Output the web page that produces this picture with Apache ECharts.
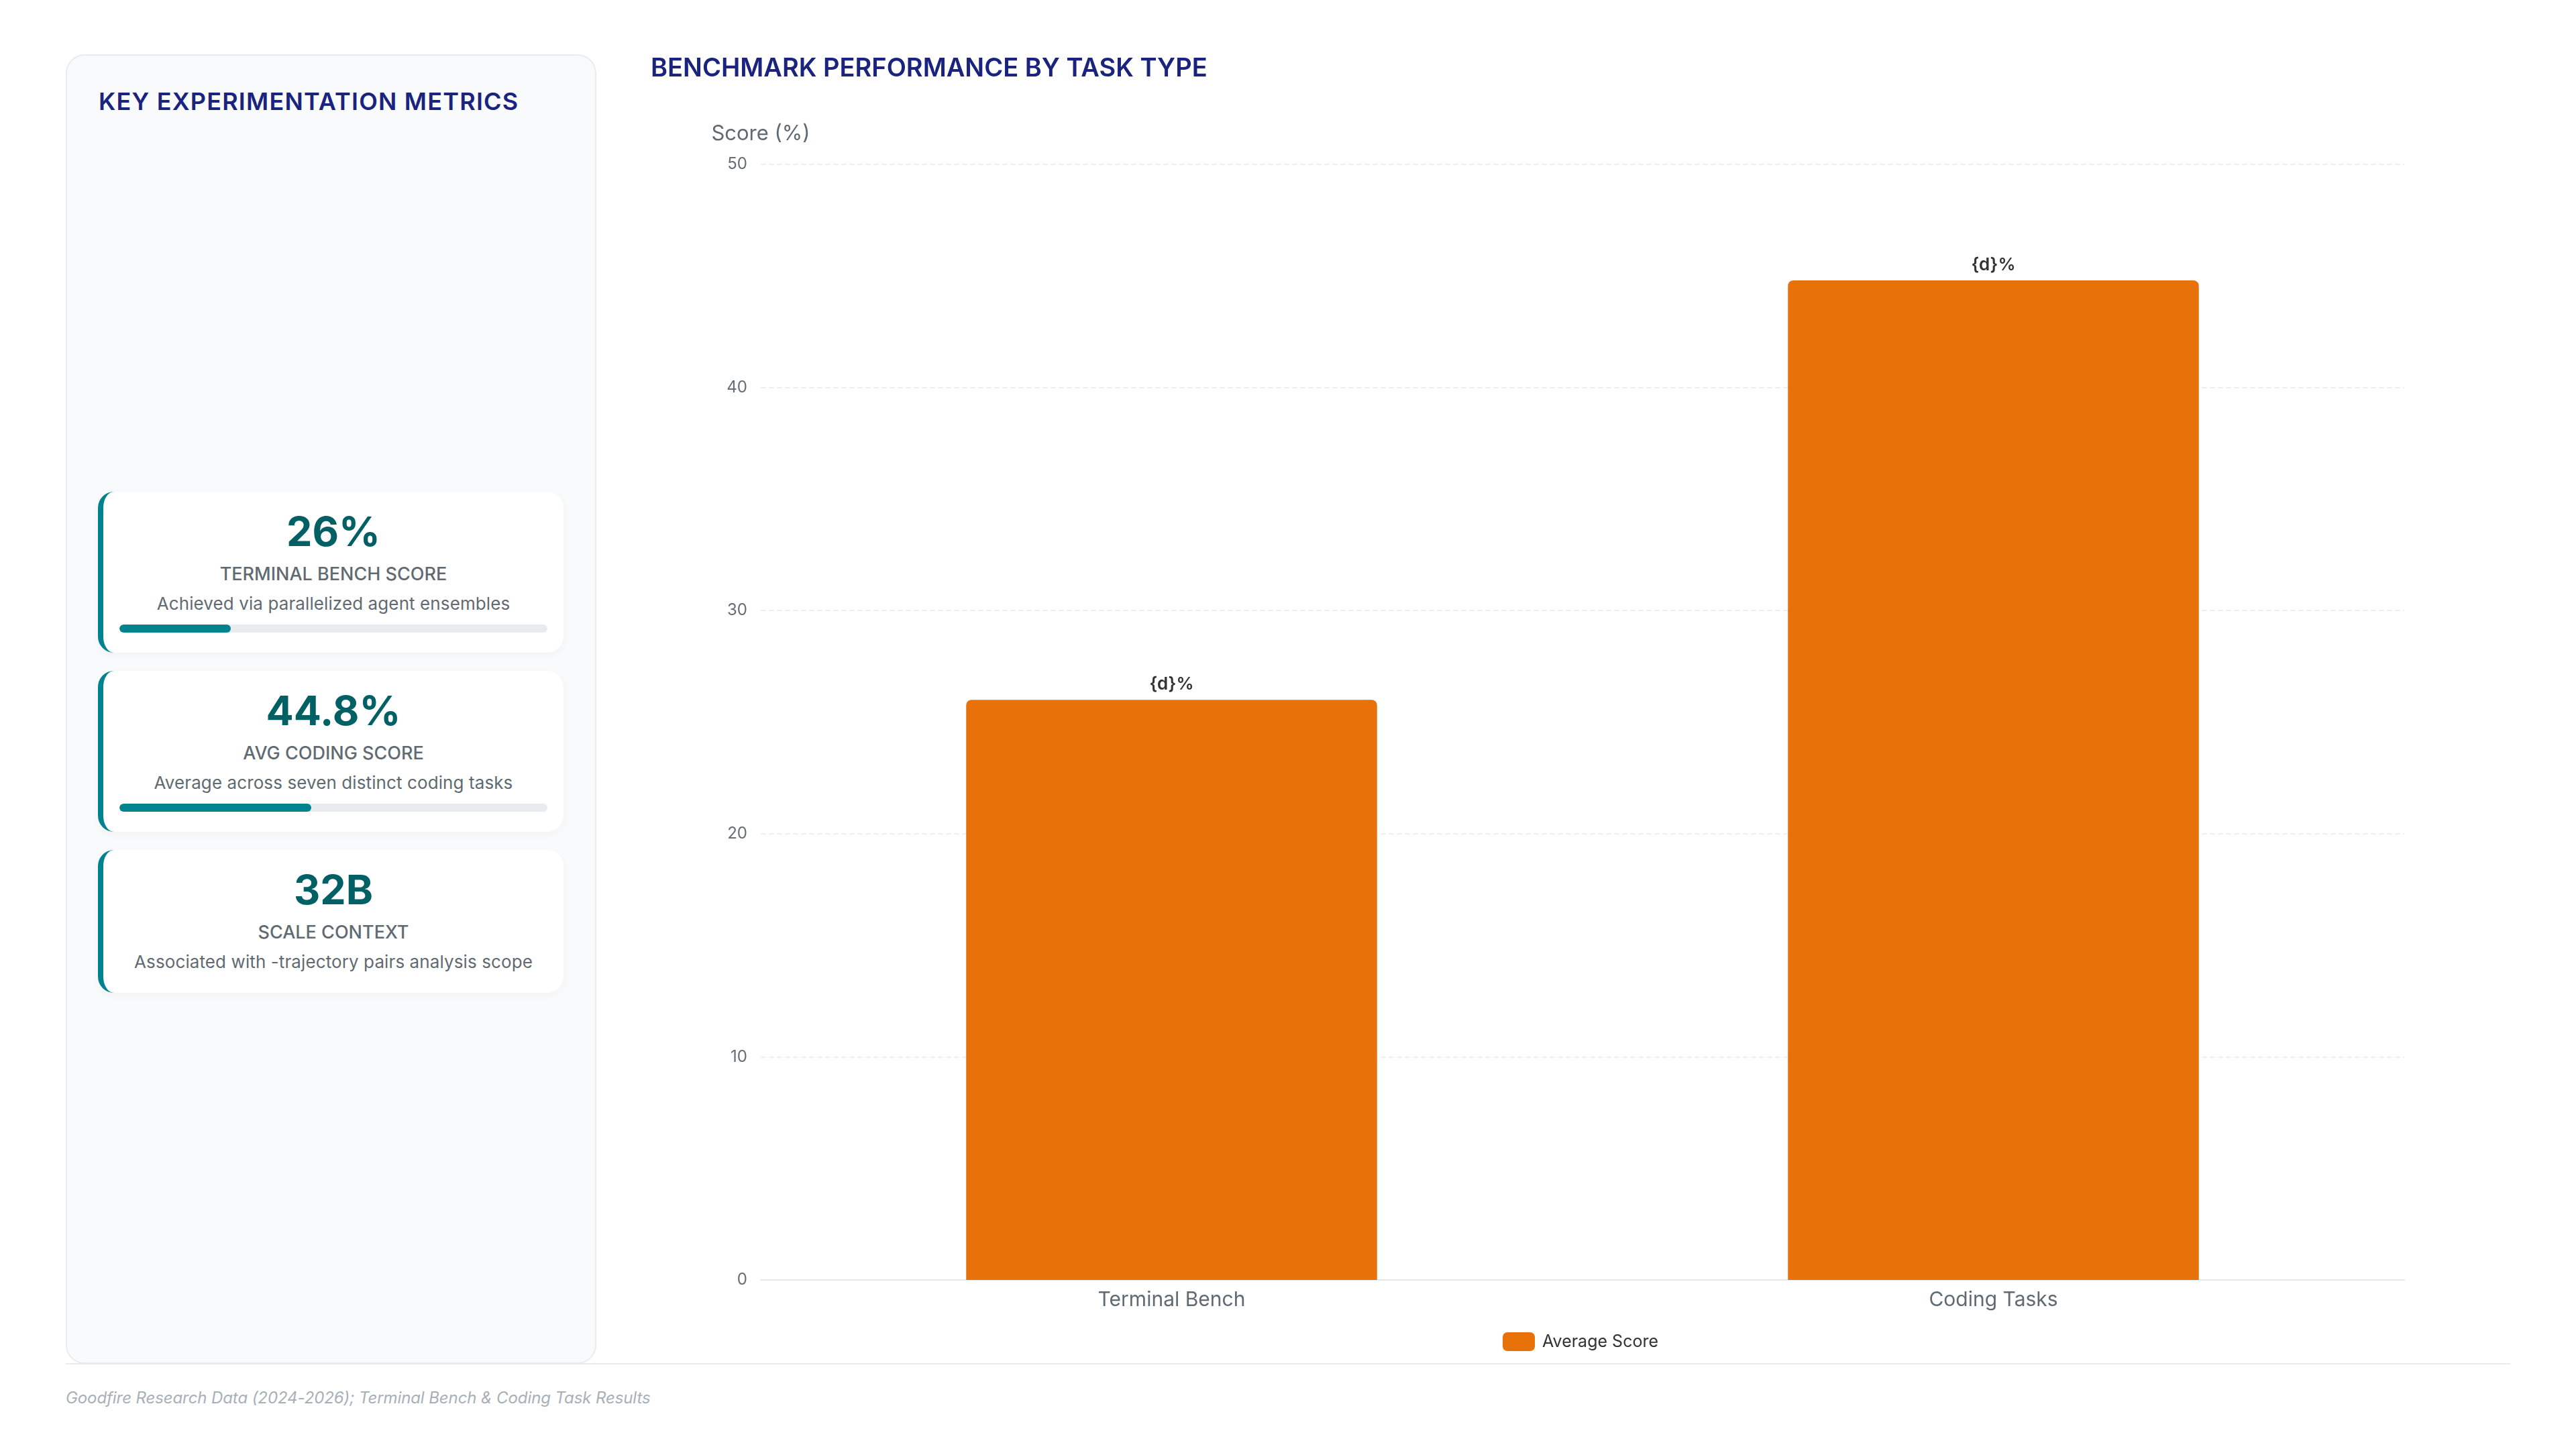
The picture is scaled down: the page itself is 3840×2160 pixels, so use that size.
<!DOCTYPE html>
<html>
<head>
<meta charset="utf-8">
<script src="https://cdn.jsdelivr.net/npm/echarts@6/dist/echarts.min.js"></script>
<style>
  html, body { margin: 0; padding: 0; background: #ffffff; font-family: Inter, "Noto Sans", sans-serif; }
  body { width: 3840px; height: 2160px; position: relative; overflow: hidden; }
  #panel {
    position: absolute; left: 98px; top: 81px; width: 791px; height: 1952px;
    box-sizing: border-box; background: #f8fafc; border: 2px solid #e8ecf0; border-radius: 28px;
  }
  #panel h3 {
    position: absolute; left: 47px; top: 46px; margin: 0;
    font-size: 36px; line-height: 44px; font-weight: 600; letter-spacing: 1.2px; color: #1a237e;
  }
  #cards { position: absolute; left: 46px; top: 650px; width: 694px; }
  .card {
    box-sizing: border-box; background: #ffffff; border-left: 8px solid #00838f; border-radius: 24px;
    padding: 24px 24px 30px 24px; margin-bottom: 27px; text-align: center;
    box-shadow: 0 4px 14px rgba(0, 0, 0, 0.035);
  }
  .card .num { font-size: 61px; line-height: 70px; font-weight: 700; color: #006064; }
  .card .lbl { font-size: 27px; line-height: 36px; font-weight: 500; color: #5f6a72; margin-top: 11px; }
  .card .desc { font-size: 26px; line-height: 36px; font-weight: 400; color: #5f6a72; margin-top: 8px; letter-spacing: 0.1px; }
  .card .track { height: 12px; border-radius: 6px; background: #e8ecef; margin-top: 13px; overflow: hidden; }
  .card .fill { height: 12px; border-radius: 6px; background: #00838f; }
  .card.nobar { padding-bottom: 28px; }
  #rule { position: absolute; left: 98px; top: 2032px; width: 3644px; height: 2px; background: #e8ecef; }
  #chart { position: absolute; left: 970px; top: 60px; width: 2772px; height: 1970px; }
  #footer {
    position: absolute; left: 98px; top: 2068px; font-size: 24px; line-height: 32px;
    font-style: italic; color: #a7b0b7; letter-spacing: -0.1px;
  }
</style>
</head>
<body>
<div id="panel">
  <h3>KEY EXPERIMENTATION METRICS</h3>
  <div id="cards"></div>
</div>
<div id="rule"></div>
<div id="chart"></div>
<div id="footer">Goodfire Research Data (2024-2026); Terminal Bench &amp; Coding Task Results</div>

<script>
// chart data
var categories = ['Terminal Bench', 'Coding Tasks'];
var avgScore = [26, 44.8];
var yTicks = [0, 10, 20, 30, 40, 50];

// metric cards
var metricValues = ['26%', '44.8%', '32B'];
var metricLabels = ['TERMINAL BENCH SCORE', 'AVG CODING SCORE', 'SCALE CONTEXT'];
var metricNotes = [
  'Achieved via parallelized agent ensembles',
  'Average across seven distinct coding tasks',
  'Associated with -trajectory pairs analysis scope'
];
var metricProgress = [26, 44.8, null];

var cards = document.getElementById('cards');
for (var i = 0; i < metricValues.length; i++) {
  var c = document.createElement('div');
  c.className = 'card' + (metricProgress[i] == null ? ' nobar' : '');
  var html = '<div class="num">' + metricValues[i] + '</div>' +
    '<div class="lbl">' + metricLabels[i] + '</div>' +
    '<div class="desc">' + metricNotes[i] + '</div>';
  if (metricProgress[i] != null) {
    html += '<div class="track"><div class="fill" style="width:' + metricProgress[i] + '%"></div></div>';
  }
  c.innerHTML = html;
  cards.appendChild(c);
}

var dom = document.getElementById('chart');
var myChart = echarts.init(dom, null, { renderer: 'canvas' });

var option = {
  textStyle: { fontFamily: 'Inter' },
  title: {
    text: 'BENCHMARK PERFORMANCE BY TASK TYPE',
    left: 0,
    top: 24,
    padding: 0,
    textStyle: { fontSize: 38, fontWeight: 600, color: '#1a237e', fontFamily: 'Inter' }
  },
  legend: {
    bottom: 11,
    left: 'center',
    itemWidth: 48,
    itemHeight: 28,
    itemGap: 20,
    icon: 'roundRect',
    textStyle: { fontSize: 25, color: '#333333', padding: [0, 0, 0, 6] }
  },
  grid: { left: 164, right: 158, top: 185, bottom: 122 },
  xAxis: {
    type: 'category',
    data: categories,
    axisTick: { show: false },
    axisLine: { lineStyle: { color: '#e6e9ec', width: 2 } },
    axisLabel: { fontSize: 30, color: '#5f6a72', margin: 15 }
  },
  yAxis: {
    type: 'value',
    name: 'Score (%)',
    nameGap: 30,
    nameTextStyle: { fontSize: 31, color: '#5f6a72' },
    min: yTicks[0],
    max: yTicks[yTicks.length - 1],
    interval: yTicks[1] - yTicks[0],
    axisLine: { show: false },
    axisTick: { show: false },
    axisLabel: { fontSize: 24, color: '#666e75', margin: 20 },
    splitLine: { lineStyle: { color: '#eef0f2', width: 2, type: 'dashed' } }
  },
  series: [
    {
      name: 'Average Score',
      type: 'bar',
      data: avgScore,
      barWidth: '50%',
      itemStyle: { color: '#e8710a', borderRadius: [8, 8, 0, 0] },
      label: {
        show: true,
        position: 'top',
        distance: 10,
        formatter: '{d}%',
        fontSize: 26,
        fontWeight: 600,
        color: '#333333'
      }
    }
  ]
};

myChart.setOption(option);
window.addEventListener('resize', myChart.resize);
</script>
</body>
</html>
